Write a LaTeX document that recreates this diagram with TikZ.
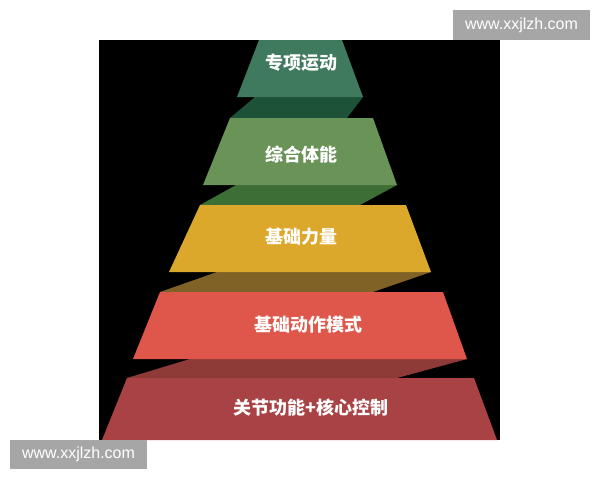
\documentclass[tikz,border=0pt]{standalone}
\usepackage{fontspec}
\newfontfamily\cjk{Noto Sans CJK SC}
\newfontfamily\wmfont{Liberation Sans}
\definecolor{lay1}{HTML}{3F7A5E}
\definecolor{band1}{HTML}{1E5238}
\definecolor{lay2}{HTML}{6A9357}
\definecolor{band2}{HTML}{3D6E35}
\definecolor{lay3}{HTML}{DCA82B}
\definecolor{band3}{HTML}{806227}
\definecolor{lay4}{HTML}{DE574A}
\definecolor{band4}{HTML}{8E3B38}
\definecolor{lay5}{HTML}{A84244}
\definecolor{wmgray}{HTML}{A6A6A6}
\begin{document}
\begin{tikzpicture}[x=1pt,y=-1pt,
  label/.style={text=white,font=\cjk\bfseries\fontsize{18}{21}\selectfont,inner sep=0pt},
  wm/.style={fill=wmgray,text=white,font=\wmfont\fontsize{16}{18}\selectfont,inner sep=0pt,anchor=center}]
\useasboundingbox (0,0) rectangle (600,480);
\fill[white] (0,0) rectangle (600,480);
\fill[black] (99,40) rectangle (500,440);
% shadow bands
\fill[band1] (255,97) -- (363,97) -- (347,118) -- (230,118) -- cycle;
\fill[band2] (236,185) -- (397,185) -- (360,205) -- (200,205) -- cycle;
\fill[band3] (217,272) -- (431,272) -- (373,292) -- (160,292) -- cycle;
\fill[band4] (190,359) -- (467,359) -- (397,378) -- (127,378) -- cycle;
% layers
\fill[lay1] (259,40) -- (342,40) -- (363,97) -- (237,97) -- cycle;
\fill[lay2] (230,118) -- (373,118) -- (397,185) -- (203,185) -- cycle;
\fill[lay3] (200,205) -- (406,205) -- (431,272) -- (169,272) -- cycle;
\fill[lay4] (160,292) -- (443,292) -- (467,359) -- (133,359) -- cycle;
\fill[lay5] (127,378) -- (474,378) -- (497,440) -- (102,440) -- cycle;
% labels
\node[label] (t1) at (301,63) {专项运动};
\node[label] (t2) at (301,155) {综合体能};
\node[label] (t3) at (301,237) {基础力量};
\node[label] (t4) at (308,325) {基础动作模式};
\node[label] (t5) at (311,408) {关节功能+核心控制};
% watermarks
\fill[wmgray] (453,10) rectangle (590,40);
\node[wm] (w1) at (521.5,25) {www.xxjlzh.com};
\fill[wmgray] (10,440) rectangle (147,469);
\node[wm] (w2) at (78.5,454.5) {www.xxjlzh.com};
\end{tikzpicture}
\end{document}
